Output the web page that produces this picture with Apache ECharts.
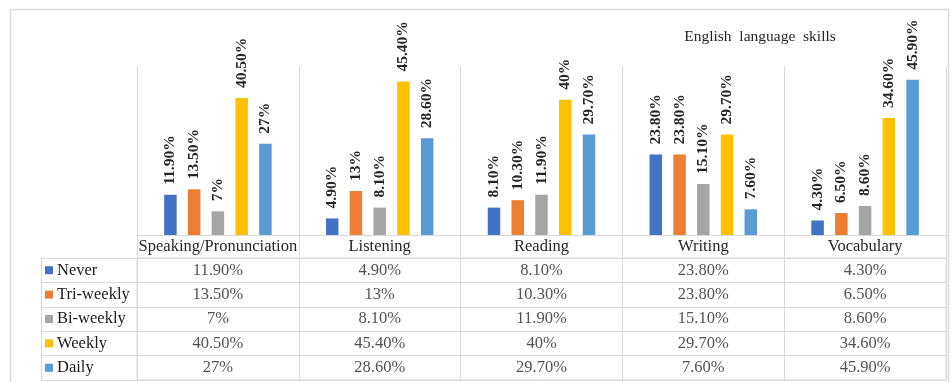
<!DOCTYPE html>
<html>
<head>
<meta charset="utf-8">
<script src="https://cdn.jsdelivr.net/npm/echarts@6/dist/echarts.min.js"></script>
<style>
html,body{margin:0;padding:0;background:#fff;}
#chart{width:952px;height:382px;}
</style>
</head>
<body>
<div id="chart"></div>
<script>
const categories = ['Speaking/Pronunciation', 'Listening', 'Reading', 'Writing', 'Vocabulary'];
const seriesNames = ['Never', 'Tri-weekly', 'Bi-weekly', 'Weekly', 'Daily'];
const never = [11.9, 4.9, 8.1, 23.8, 4.3];
const triWeekly = [13.5, 13, 10.3, 23.8, 6.5];
const biWeekly = [7, 8.1, 11.9, 15.1, 8.6];
const weekly = [40.5, 45.4, 40, 29.7, 34.6];
const daily = [27, 28.6, 29.7, 7.6, 45.9];
const titleText = 'English  language  skills';

const allValues = [never, triWeekly, biWeekly, weekly, daily];
const colors = ['#4472C4', '#ED7D31', '#A5A5A5', '#FFC000', '#5B9BD5'];
const lineColor = '#d9d9d9';
const serif = '"Liberation Serif","Times New Roman",serif';

function fmt(v) {
  return (Number.isInteger(v) ? String(v) : v.toFixed(2)) + '%';
}

const barSeries = allValues.map((vals, i) => ({
  name: seriesNames[i],
  type: 'bar',
  xAxisIndex: 0, yAxisIndex: 0,
  data: vals,
  barWidth: 12.5,
  barGap: '90%',
  itemStyle: { color: colors[i] },
  label: {
    show: true,
    position: 'top',
    rotate: 90,
    align: 'left',
    verticalAlign: 'middle',
    distance: 10,
    fontFamily: serif,
    fontWeight: 'bold',
    fontSize: 15.5,
    color: '#262626',
    formatter: p => fmt(p.value)
  }
}));

const cellData = [];
allValues.forEach((vals, r) => vals.forEach((v, c) => cellData.push({ value: [c, r], text: fmt(v) })));

const rich = {};
colors.forEach((c, i) => { rich['s' + i] = { width: 8, height: 8, backgroundColor: c }; });
rich.t = { fontFamily: serif, fontSize: 16.5, color: '#1a1a1a', padding: [0, 0, 0, 4] };

const option = {
  animation: false,
  backgroundColor: '#fff',
  title: {
    text: titleText,
    left: 755, top: 24, textAlign: 'center',
    textStyle: { fontFamily: serif, fontSize: 15.5, fontWeight: 'normal', color: '#262626' }
  },
  graphic: [{
    type: 'rect', shape: { x: 10.5, y: 9.5, width: 938, height: 380 },
    style: { fill: 'none', stroke: lineColor, lineWidth: 1.5 }, silent: true
  }],
  grid: [
    { left: 137, right: 6, top: 66, bottom: 147 },
    { left: 137, right: 6, top: 258, bottom: 2, show: true, borderColor: lineColor, borderWidth: 1 }
  ],
  xAxis: [
    {
      gridIndex: 0, type: 'category', data: categories,
      axisLine: { show: true, lineStyle: { color: lineColor } },
      axisTick: { show: true, length: 23, inside: false, lineStyle: { color: lineColor } },
      splitLine: { show: true, interval: 0, lineStyle: { color: lineColor } },
      axisLabel: { interval: 0, margin: 3, fontFamily: serif, fontSize: 16.5, color: '#262626' }
    },
    {
      gridIndex: 1, type: 'category', data: categories,
      axisLine: { show: false }, axisTick: { show: false }, axisLabel: { show: false },
      splitLine: { show: true, interval: 0, lineStyle: { color: lineColor } }
    }
  ],
  yAxis: [
    { gridIndex: 0, type: 'value', min: 0, max: 50, show: false, splitLine: { show: false } },
    {
      gridIndex: 1, type: 'category', data: seriesNames, inverse: true,
      axisLine: { show: true, lineStyle: { color: lineColor } },
      axisTick: { show: true, length: 96, lineStyle: { color: lineColor } },
      splitLine: { show: true, interval: 0, lineStyle: { color: lineColor } },
      axisLabel: {
        interval: 0, align: 'left', margin: 92,
        formatter: (v, i) => '{s' + i + '|}{t|' + v + '}',
        rich: rich
      }
    },
    {
      gridIndex: 1, type: 'category', data: seriesNames, inverse: true,
      position: 'left', offset: 96,
      axisLine: { show: true, lineStyle: { color: lineColor } },
      axisTick: { show: false }, axisLabel: { show: false }, splitLine: { show: false }
    }
  ],
  series: barSeries.concat([{
    type: 'scatter',
    xAxisIndex: 1, yAxisIndex: 1,
    data: cellData,
    symbolSize: 1,
    itemStyle: { color: 'rgba(0,0,0,0)' },
    label: {
      show: true, position: 'inside',
      fontFamily: serif, fontSize: 16.5, color: '#262626',
      formatter: p => p.data.text
    },
    silent: true
  }])
};

const chart = echarts.init(document.getElementById('chart'), null, { renderer: 'canvas' });
chart.setOption(option);
</script>
</body>
</html>
